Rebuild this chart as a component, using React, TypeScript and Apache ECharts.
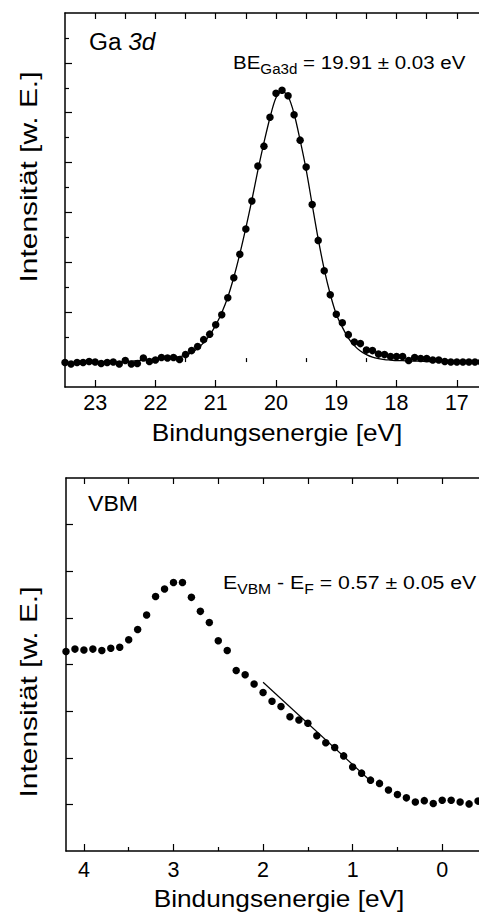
import React, { useEffect, useRef } from "react";
import * as echarts from "echarts";

// ---- Ga 3d core level (top panel) ----
const ga3dEnergy = [
  23.5, 23.4, 23.3, 23.2, 23.1, 23.0, 22.9, 22.8, 22.7, 22.6,
  22.5, 22.4, 22.3, 22.2, 22.1, 22.0, 21.9, 21.8, 21.7, 21.6,
  21.5, 21.4, 21.3, 21.2, 21.1, 21.0, 20.9, 20.8, 20.7, 20.6,
  20.5, 20.4, 20.3, 20.2, 20.1, 20.0, 19.9, 19.8, 19.7, 19.6,
  19.5, 19.4, 19.3, 19.2, 19.1, 19.0, 18.9, 18.8, 18.7, 18.6,
  18.5, 18.4, 18.3, 18.2, 18.1, 18.0, 17.9, 17.8, 17.7, 17.6,
  17.5, 17.4, 17.3, 17.2, 17.1, 17.0, 16.9, 16.8, 16.7, 16.6,
  16.5,
];
const ga3dMeasured = [
  -0.01, -0.04, -0.01, -0.01, 0.01, 0.0, -0.03, -0.01, 0.0, -0.04,
  0.03, -0.04, -0.03, 0.08, 0.01, 0.04, 0.09, 0.08, 0.09, 0.05,
  0.15, 0.23, 0.31, 0.45, 0.56, 0.75, 0.95, 1.29, 1.69, 2.16,
  2.67, 3.23, 3.93, 4.33, 4.91, 5.39, 5.45, 5.34, 4.96, 4.45,
  3.91, 3.16, 2.44, 1.83, 1.35, 0.96, 0.79, 0.55, 0.4, 0.37,
  0.24, 0.23, 0.16, 0.15, 0.11, 0.11, 0.11, 0.03, 0.09, 0.07,
  0.07, 0.04, 0.04, 0.01, 0.0, 0.0, 0.0, 0.0, 0.0, 0.0,
  0.0,
];
const ga3dFit = [
  -0.01, -0.01, -0.01, -0.01, 0.0, 0.0, 0.0, 0.0, 0.0, 0.0,
  0.01, 0.02, 0.03, 0.04, 0.05, 0.06, 0.07, 0.08, 0.09, 0.11,
  0.14, 0.19, 0.27, 0.39, 0.54, 0.74, 0.99, 1.3, 1.7, 2.17,
  2.69, 3.25, 3.85, 4.4, 4.9, 5.3, 5.43, 5.33, 4.98, 4.45,
  3.86, 3.16, 2.47, 1.86, 1.36, 0.96, 0.7, 0.48, 0.33, 0.22,
  0.15, 0.1, 0.07, 0.05, 0.04, 0.03, 0.03, 0.02, 0.02, 0.02,
  0.01, 0.01, 0.01, 0.01, 0.0, 0.0, 0.0, 0.0, 0.0, 0.0,
  0.0,
];
const ga3dMajorTicks = [17, 18, 19, 20, 21, 22, 23];
const ga3dMinorTicks = [17.5, 18.5, 19.5, 20.5, 21.5, 22.5];
const ga3dTopTicks = [17, 17.5, 18, 18.5, 19, 19.5, 20, 20.5, 21, 21.5, 22, 22.5, 23];
const ga3dYMinor = [0.5, 1.5, 2.5, 3.5, 4.5, 5.5, 6.5];
const ga3dYMajor = [0, 1, 2, 3, 4, 5, 6];

// ---- Valence band (bottom panel) ----
const vbEnergy = [
  4.2, 4.1, 4.0, 3.9, 3.8, 3.7, 3.6, 3.5, 3.4, 3.3,
  3.2, 3.1, 3.0, 2.9, 2.8, 2.7, 2.6, 2.5, 2.4, 2.3,
  2.2, 2.1, 2.0, 1.9, 1.8, 1.7, 1.6, 1.5, 1.4, 1.3,
  1.2, 1.1, 1.0, 0.9, 0.8, 0.7, 0.6, 0.5, 0.4, 0.3,
  0.2, 0.1, 0.0, -0.1, -0.2, -0.3, -0.4, -0.5,
];
const vbMeasured = [
  4.28, 4.33, 4.31, 4.33, 4.3, 4.35, 4.37, 4.53, 4.75, 5.06,
  5.46, 5.62, 5.76, 5.76, 5.44, 5.14, 4.9, 4.51, 4.3, 3.87,
  3.78, 3.58, 3.4, 3.21, 3.1, 2.88, 2.81, 2.74, 2.47, 2.32,
  2.22, 2.04, 1.8, 1.67, 1.52, 1.45, 1.31, 1.21, 1.14, 1.05,
  1.08, 1.02, 1.09, 1.09, 1.05, 1.01, 1.07, 1.05,
];
const vbEdgeEnergy = [2.0, 0.8];
const vbEdgeFit = [3.62, 1.5];
const vbMajorTicks = [0, 1, 2, 3, 4];
const vbMinorTicks = [0.5, 1.5, 2.5, 3.5];
const vbTopTicks = [0, 0.5, 1, 1.5, 2, 2.5, 3, 3.5, 4];
const vbYTicks = [1, 2, 3, 4, 5, 6, 7];

const FAMILY = "Liberation Sans";
const FONT = "'Liberation Sans', Arial, Helvetica, sans-serif";
const BLACK = "#000";

const zip = (xs: number[], ys: number[]) => xs.map((x, i) => [x, ys[i]]);

let measureCtx: CanvasRenderingContext2D | null = null;
function measure(text: string, size: number, italic = false) {
  if (!measureCtx) measureCtx = document.createElement("canvas").getContext("2d");
  if (!measureCtx) return text.length * size * 0.55;
  measureCtx.font = `${italic ? "italic " : ""}${size}px "${FAMILY}"`;
  return measureCtx.measureText(text).width;
}

type Part = { text: string; sub?: boolean; italic?: boolean };
function composedText(x: number, y: number, parts: Part[], size: number, subSize: number, subShift: number, sx = 1) {
  const els: any[] = [];
  let cx = x;
  for (const p of parts) {
    const fs = p.sub ? subSize : size;
    els.push({
      type: "text",
      x: cx,
      y: p.sub ? y + subShift : y,
      scaleX: sx,
      style: {
        text: p.text,
        fontSize: fs,
        fontFamily: FONT,
        fontStyle: p.italic ? "italic" : "normal",
        fill: BLACK,
        verticalAlign: "middle",
        align: "left",
      },
    });
    cx += measure(p.text, fs, p.italic) * sx;
  }
  return els;
}

function xAxisSet(grid: number, min: number, max: number, major: number[], minor: number[], top: number[], labelMargin: number) {
  const common = {
    gridIndex: grid,
    type: "value",
    inverse: true,
    min,
    max,
    splitLine: { show: false },
  };
  return [
    {
      ...common,
      position: "bottom",
      axisLine: { show: true, onZero: false, lineStyle: { color: BLACK, width: 1.5 } },
      axisTick: { show: true, inside: true, length: 7, customValues: major, lineStyle: { color: BLACK, width: 1.2 } },
      axisLabel: { show: true, customValues: major, fontSize: 21.5, color: BLACK, fontFamily: FONT, margin: labelMargin },
    },
    {
      ...common,
      position: "bottom",
      axisLine: { show: false },
      axisTick: { show: true, inside: true, length: 4, customValues: minor, lineStyle: { color: BLACK, width: 1.2 } },
      axisLabel: { show: false },
    },
    {
      ...common,
      position: "top",
      axisLine: { show: true, onZero: false, lineStyle: { color: BLACK, width: 1.5 } },
      axisTick: { show: true, inside: true, length: 6, customValues: top, lineStyle: { color: BLACK, width: 1.2 } },
      axisLabel: { show: false },
    },
  ];
}

export default function App() {
  const ref = useRef<HTMLDivElement>(null);
  useEffect(() => {
    if (!ref.current) return;
    const chart = echarts.init(ref.current, undefined, { renderer: "svg" });
    const yLabel = (y: number) => ({
      type: "text",
      x: 29,
      y,
      rotation: Math.PI / 2,
      scaleX: 1.3,
      style: { text: "Intensität [w. E.]", fontSize: 23, fontFamily: FONT, fill: BLACK, align: "center", verticalAlign: "middle" },
    });
    const xLabel = (x: number, y: number) => ({
      type: "text",
      x,
      y,
      scaleX: 1.07,
      style: { text: "Bindungsenergie [eV]", fontSize: 24.5, fontFamily: FONT, fill: BLACK, align: "center", verticalAlign: "middle" },
    });
    chart.setOption({
      animation: false,
      backgroundColor: "#fff",
      grid: [
        { left: 65, top: 13, width: 422, height: 374 },
        { left: 66, top: 478, width: 421, height: 373 },
      ],
      xAxis: [
        ...xAxisSet(0, 16.5, 23.5, ga3dMajorTicks, ga3dMinorTicks, ga3dTopTicks, 5),
        ...xAxisSet(1, -0.5, 4.2, vbMajorTicks, vbMinorTicks, vbTopTicks, 8),
      ],
      yAxis: [
        {
          gridIndex: 0,
          type: "value",
          position: "left",
          min: -0.5,
          max: 7,
          splitLine: { show: false },
          axisLine: { show: true, onZero: false, lineStyle: { color: BLACK, width: 1.5 } },
          axisTick: { show: true, inside: true, length: 4, customValues: ga3dYMinor, lineStyle: { color: BLACK, width: 1.2 } },
          axisLabel: { show: false },
        },
        {
          gridIndex: 0,
          type: "value",
          position: "left",
          min: -0.5,
          max: 7,
          splitLine: { show: false },
          axisLine: { show: false },
          axisTick: { show: true, inside: true, length: 7, customValues: ga3dYMajor, lineStyle: { color: BLACK, width: 1.2 } },
          axisLabel: { show: false },
        },
        {
          gridIndex: 1,
          type: "value",
          position: "left",
          min: 0,
          max: 8,
          splitLine: { show: false },
          axisLine: { show: true, onZero: false, lineStyle: { color: BLACK, width: 1.5 } },
          axisTick: { show: true, inside: true, length: 7, customValues: vbYTicks, lineStyle: { color: BLACK, width: 1.2 } },
          axisLabel: { show: false },
        },
      ],
      series: [
        {
          type: "line",
          xAxisIndex: 0,
          yAxisIndex: 0,
          data: zip(ga3dEnergy, ga3dFit),
          showSymbol: false,
          smooth: 0.3,
          lineStyle: { color: BLACK, width: 1.3 },
          z: 2,
        },
        {
          type: "scatter",
          xAxisIndex: 0,
          yAxisIndex: 0,
          data: zip(ga3dEnergy, ga3dMeasured),
          symbolSize: 7.5,
          itemStyle: { color: BLACK, opacity: 1 },
          clip: false,
          z: 3,
        },
        {
          type: "line",
          xAxisIndex: 3,
          yAxisIndex: 2,
          data: zip(vbEdgeEnergy, vbEdgeFit),
          showSymbol: false,
          lineStyle: { color: BLACK, width: 1.2 },
          z: 2,
        },
        {
          type: "scatter",
          xAxisIndex: 3,
          yAxisIndex: 2,
          data: zip(vbEnergy, vbMeasured),
          symbolSize: 7.5,
          itemStyle: { color: BLACK, opacity: 1 },
          clip: false,
          z: 3,
        },
      ],
      graphic: [
        ...composedText(89, 42, [{ text: "Ga " }, { text: "3d", italic: true }], 23, 23, 0, 1.06),
        ...composedText(233, 62, [{ text: "BE" }, { text: "Ga3d", sub: true }, { text: " = 19.91 ± 0.03 eV" }], 19, 14, 7, 1.08),
        ...composedText(88, 504, [{ text: "VBM" }], 22, 22, 0, 1.05),
        ...composedText(223, 582, [{ text: "E" }, { text: "VBM", sub: true }, { text: " - E" }, { text: "F", sub: true }, { text: " = 0.57 ± 0.05 eV" }], 19, 14, 7, 1.12),
        yLabel(177),
        yLabel(692),
        xLabel(277, 432),
        xLabel(279, 898),
      ],
    });
    return () => chart.dispose();
  }, []);
  return (
    <div style={{ position: "fixed", left: 0, top: 0, width: 479, height: 917, overflow: "hidden", background: "#fff" }}>
      <div ref={ref} style={{ width: 500, height: 917 }} />
    </div>
  );
}
